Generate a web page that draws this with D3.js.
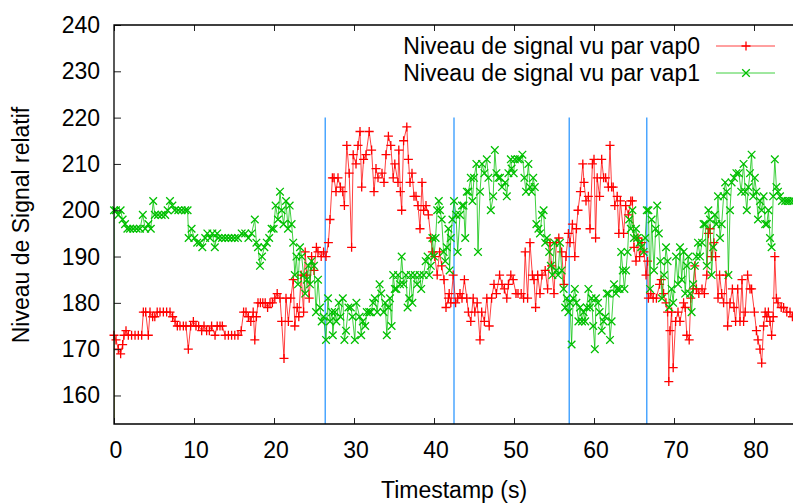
<!DOCTYPE html>
<html>
<head>
<meta charset="utf-8">
<script src="https://cdn.jsdelivr.net/npm/d3@7"></script>
<style>
    body { margin: 0; background: #fff; }
    text { font-family: "Liberation Sans", Arial, Helvetica, sans-serif; }
</style>
</head>
<body>
<div id="chart"></div>
<script>
// signal level seen by vap0 (time in s, level)
const vap0Time = [0, 0, 0.25, 0.54, 0.83, 1.08, 1.25, 1.5, 1.79, 2.2, 2.63, 3.04, 3.46, 3.67, 3.96, 4.29, 4.5, 4.83, 5.1, 5.4, 5.75, 6.17, 6.58, 7.0, 7.33, 7.63, 7.92, 8.25, 8.67, 9.0, 9.29, 9.58, 9.92, 10.25, 10.58, 10.96, 11.25, 11.58, 11.92, 12.2, 12.63, 12.9,
    13.25, 13.54, 13.88, 14.3, 14.7, 15.1, 15.5, 15.9, 16.2, 16.5, 16.8, 17.1, 17.4, 17.6, 17.8, 18.0, 18.3, 18.6, 18.9, 19.2, 19.5, 19.8, 20.1, 20.4, 20.75, 20.96, 21.25, 21.5, 21.8, 22.1, 22.4, 22.6, 22.9, 23.1, 23.4, 23.7, 23.9, 24.1, 24.4, 24.7, 25.0, 25.3, 25.5, 25.9, 26.2, 26.5, 26.8, 27.0, 27.3,
    27.5, 27.75, 28.0, 28.3, 28.6, 28.8, 29.1, 29.4, 29.7, 29.9, 30.25, 30.5, 30.75, 30.96, 31.2, 31.5, 31.9, 32.2, 32.5, 32.75, 33.0, 33.5, 33.75, 34.0, 34.3, 34.6, 34.9, 35.1, 35.5, 35.6, 35.8, 35.96, 36.2, 36.6, 36.8, 37.0, 37.25, 37.5, 37.75, 38.0, 38.25, 38.5, 38.7, 39.0, 39.3, 39.6, 39.8, 40.1, 40.4, 40.7, 40.96, 41.25, 41.5, 41.8,
    41.9, 42.1, 42.4, 42.7, 42.96, 43.25, 43.5, 43.8, 44.1, 44.3, 44.6, 44.9, 45.1, 45.4, 45.75, 45.96, 46.3, 46.6, 46.9, 47.2, 47.5, 47.8, 48.2, 48.5, 48.8, 49.1, 49.3, 49.6, 49.9, 50.25, 50.5, 50.9, 51.2, 51.4, 51.7, 52.0, 52.3, 52.5, 52.7, 52.96, 53.25, 53.5, 53.9, 54.2, 54.5, 54.7, 55.0, 55.3, 55.6, 55.96,
    56.25, 56.5, 56.8, 57.0, 57.3, 57.6, 57.8, 58.0, 58.3, 58.6, 58.75, 59.0, 59.3, 59.5, 59.8, 60.0, 60.2, 60.4, 60.7, 60.96, 61.2, 61.45, 61.8, 62.0, 62.2, 62.4, 62.6, 62.9, 63.1, 63.3, 63.7, 63.96, 64.3, 64.6, 64.8, 65.0, 65.25, 65.5, 65.7, 65.96, 66.25, 66.5, 66.7, 66.8, 67.1, 67.4, 67.8, 68.2, 68.4, 68.7, 69.0, 69.2, 69.35, 69.5, 69.7, 69.9, 70.2,
    70.5, 70.75, 71.2, 71.4, 71.6, 71.9, 72.1, 72.4, 72.6, 72.8, 73.1, 73.5, 73.8, 74.1, 74.3, 74.5, 74.7, 75.0, 75.2, 75.5, 75.7, 75.96, 76.2, 76.5, 76.7, 77.0, 77.3, 77.5, 77.7, 77.96, 78.25, 78.5, 78.7, 78.9, 79.2, 79.5, 79.7, 80.05, 80.3, 80.5, 80.75, 80.96, 81.2, 81.4, 81.6, 81.8, 82.0, 82.2, 82.4, 82.6, 82.8, 83.0, 83.4, 83.7, 84.1, 84.5, 84.8];
const vap0Level = [0, 173, 172, 170, 169, 171, 173, 174, 173, 173, 173, 173, 173, 178, 178, 173, 178, 177, 177, 178, 178, 178, 178, 178, 177, 176, 175, 175, 175, 175, 170, 175, 176, 175, 175, 174, 175, 174, 174, 175, 173, 175,
    175, 175, 173, 173, 173, 173, 173, 174, 178, 178, 177, 176, 178, 172, 177, 180, 180, 180, 180, 179, 180, 180, 181, 182, 181, 176, 168, 181, 176, 181, 185, 175, 179, 177, 186, 178, 191, 186, 181, 190, 187, 192, 191, 190, 191, 190, 193, 198, 207,
    207, 204, 207, 205, 204, 201, 214, 208, 192, 212, 210, 214, 217, 205, 211, 212, 217, 213, 204, 209, 207, 208, 206, 212, 216, 214, 207, 210, 206, 213, 204, 200, 215, 218, 211, 206, 208, 203, 203, 201, 196, 206, 200, 201, 199, 194, 191, 190, 186, 191, 188, 185, 179, 181,
    182, 180, 186, 180, 181, 182, 181, 185, 181, 178, 176, 181, 178, 180, 172, 178, 176, 181, 175, 181, 184, 182, 186, 184, 183, 181, 184, 186, 185, 182, 182, 182, 181, 191, 181, 193, 186, 185, 179, 186, 182, 186, 187, 183, 193, 188, 182, 193, 194, 191,
    184, 190, 195, 193, 197, 190, 196, 200, 204, 210, 206, 202, 203, 196, 210, 211, 194, 207, 203, 211, 207, 207, 205, 214, 205, 205, 201, 203, 195, 202, 195, 201, 199, 202, 202, 192, 189, 194, 190, 193, 191, 186, 189, 181, 182, 181, 181, 184, 185, 182, 180, 178, 163, 174, 178, 166, 176,
    178, 176, 180, 179, 173, 172, 181, 183, 188, 183, 182, 183, 182, 186, 195, 196, 190, 193, 190, 181, 186, 182, 180, 186, 175, 180, 183, 179, 176, 183, 176, 185, 176, 178, 186, 183, 183, 178, 174, 172, 170, 167, 175, 178, 177, 178, 176, 173, 177, 190, 181, 180, 179, 179, 178, 178, 177];

// signal level seen by vap1
const vap1Time = [0, 0, 0.25, 0.54, 0.83, 1.08, 1.38, 1.67, 2.0, 2.4, 2.83, 3.25, 3.6, 3.9, 4.3, 4.6, 4.9, 5.1, 5.5, 5.96, 6.4, 6.7, 7.0, 7.3, 7.6, 8.04, 8.46, 8.9, 9.2, 9.33, 9.7, 10.04, 10.4, 10.75, 11.04, 11.4, 11.67, 12.0, 12.3, 12.6, 12.9,
    13.04, 13.5, 13.9, 14.3, 14.7, 15.1, 15.5, 15.96, 16.4, 16.8, 17.2, 17.6, 17.8, 18.0, 18.25, 18.5, 18.8, 19.1, 19.4, 19.7, 19.96, 20.2, 20.5, 20.75, 20.96, 21.2, 21.5, 21.75, 21.96, 22.2, 22.4, 22.6, 22.8, 23.0, 23.25, 23.46, 23.7, 23.9, 24.1, 24.3, 24.5, 24.7, 25.0, 25.25, 25.5, 25.75, 25.96, 26.2, 26.5, 26.75, 27.0, 27.25,
    27.35, 27.6, 27.8, 28.1, 28.3, 28.6, 28.8, 29.0, 29.3, 29.6, 29.8, 30.1, 30.3, 30.7, 30.9, 31.1, 31.4, 31.6, 31.9, 32.1, 32.4, 32.6, 32.9, 33.2, 33.4, 33.7, 33.9, 34.1, 34.3, 34.5, 34.7, 34.9, 35.1, 35.3, 35.5, 35.75, 35.96, 36.2, 36.5, 36.7, 36.9, 37.1, 37.3, 37.6, 37.9, 38.2, 38.4, 38.7, 38.96, 39.2, 39.4, 39.6, 39.8, 40.0, 40.2, 40.4, 40.6, 40.75, 40.96, 41.2, 41.4, 41.6, 41.8,
    41.95, 42.1, 42.3, 42.5, 42.75, 42.96, 43.25, 43.5, 43.7, 43.9, 44.1, 44.3, 44.6, 44.8, 45.0, 45.3, 45.5, 45.75, 46.0, 46.3, 46.6, 46.8, 47.1, 47.4, 47.6, 47.8, 48.05, 48.25, 48.5, 48.9, 49.1, 49.3, 49.6, 49.7, 49.96, 50.1, 50.5, 50.75, 51.05, 51.3, 51.5, 51.8, 52.0, 52.2, 52.4, 52.6, 52.8, 53.05, 53.25, 53.5, 53.7, 53.9, 54.1, 54.4, 54.6, 54.8, 55.05, 55.3, 55.5,
    55.75, 55.96, 56.2, 56.4, 56.6, 56.8, 57.0, 57.2, 57.4, 57.6, 57.8, 58.05, 58.25, 58.5, 58.7, 58.9, 59.1, 59.3, 59.5, 59.7, 59.9, 60.1, 60.25, 60.5, 60.7, 60.96, 61.2, 61.4, 61.6, 61.8, 62.0, 62.2, 62.5, 62.75, 62.9, 63.2, 63.4, 63.6, 63.8, 64.0, 64.2, 64.4, 64.6, 64.8, 65.0, 65.25, 65.4, 65.7, 65.9, 66.2, 66.4, 66.6, 66.8, 67.0, 67.2, 67.5, 67.7, 67.9, 68.1, 68.3, 68.5, 68.75, 69.0, 69.2, 69.4, 69.7, 69.9, 70.25,
    70.5, 70.75, 70.96, 71.2, 71.4, 71.6, 71.8, 72.0, 72.2, 72.4, 72.6, 72.8, 73.0, 73.25, 73.5, 73.7, 73.9, 74.1, 74.3, 74.5, 74.7, 74.9, 75.1, 75.3, 75.5, 75.75, 75.96, 76.2, 76.4, 76.6, 76.8, 77.0, 77.2, 77.5, 77.8, 78.1, 78.4, 78.7, 78.9, 79.1, 79.3, 79.5, 79.7, 79.9, 80.1, 80.3, 80.5, 80.75, 80.96, 81.2, 81.4, 81.6, 81.8, 82.0, 82.2, 82.4, 82.6, 82.8, 83.0, 83.25, 83.5, 83.9, 84.2, 84.5, 84.9];
const vap1Level = [0, 200, 200, 199, 200, 198, 197, 196, 196, 196, 196, 196, 199, 196, 197, 196, 202, 199, 199, 199, 199, 200, 202, 201, 200, 200, 200, 200, 200, 194, 196, 194, 193, 193, 192, 194, 195, 194, 195, 192, 195,
    194, 194, 194, 194, 194, 194, 194, 195, 195, 194, 195, 198, 193, 192, 188, 190, 192, 193, 194, 196, 196, 201, 198, 204, 200, 197, 202, 196, 201, 197, 193, 186, 190, 184, 192, 190, 186, 182, 185, 188, 184, 189, 188, 178, 185, 179, 176, 177, 172, 181, 176, 178,
    173, 178, 176, 180, 177, 181, 172, 174, 179, 179, 177, 172, 180, 177, 173, 176, 175, 178, 178, 178, 180, 181, 178, 184, 182, 178, 180, 173, 179, 181, 175, 186, 183, 183, 186, 184, 190, 184, 186, 179, 181, 186, 180, 186, 184, 186, 183, 186, 189, 190, 186, 188, 194, 190, 194, 200, 202, 200, 198, 191, 189, 192, 196,
    187, 194, 198, 202, 199, 191, 199, 201, 201, 194, 204, 204, 207, 202, 207, 210, 191, 204, 210, 208, 211, 207, 200, 203, 213, 208, 207, 207, 205, 206, 203, 208, 211, 209, 208, 211, 211, 211, 212, 207, 204, 210, 205, 204, 207, 205, 197, 196, 195, 199, 200, 193, 194, 191, 188, 186, 193, 187, 186,
    193, 187, 183, 179, 181, 178, 180, 171, 181, 183, 180, 176, 179, 176, 178, 176, 179, 183, 179, 181, 175, 170, 181, 180, 178, 174, 176, 177, 182, 182, 172, 176, 184, 182, 183, 183, 191, 187, 183, 187, 191, 198, 196, 200, 194, 196, 194, 193, 192, 191, 194, 200, 200, 183, 198, 187, 196, 201, 195, 189, 181, 186, 192, 189, 179, 183, 180, 190,
    184, 192, 185, 191, 182, 188, 190, 182, 178, 184, 188, 190, 193, 190, 193, 197, 197, 188, 200, 198, 186, 192, 199, 197, 203, 194, 197, 203, 206, 204, 186, 200, 206, 207, 208, 208, 204, 210, 204, 200, 205, 208, 212, 203, 207, 204, 198, 202, 200, 203, 197, 197, 200, 194, 192, 203, 211, 205, 204, 203, 202, 202, 202, 202, 202];

// vertical event lines
const eventTimes = [26.4, 42.5, 56.9, 66.6];
const eventTop = 220;

const xTicks = [0, 10, 20, 30, 40, 50, 60, 70, 80];
const yTicks = [160, 170, 180, 190, 200, 210, 220, 230, 240];

const seriesNames = ["Niveau de signal vu par vap0", "Niveau de signal vu par vap1"];
const seriesColors = ["#ff0000", "#00c000"];

function renderChart() {
    const width = 793, height = 503;
    const left = 114, right = 794, top = 25, bottom = 424;

    const x = d3.scaleLinear().domain([0, 85]).range([left, right]);
    const y = d3.scaleLinear().domain([153.84, 240]).range([bottom, top]);

    const svg = d3.select("#chart").append("svg")
        .attr("width", width)
        .attr("height", height);

    svg.append("clipPath").attr("id", "plotClip")
        .append("rect")
        .attr("x", left).attr("y", top)
        .attr("width", right - left).attr("height", bottom - top);

    // event lines
    svg.append("g").selectAll("line")
        .data(eventTimes)
        .enter().append("line")
        .attr("x1", d => x(d)).attr("x2", d => x(d))
        .attr("y1", y(eventTop)).attr("y2", bottom)
        .attr("stroke", "#1e90ff")
        .attr("stroke-width", 1.2);

    const series = [
        d3.zip(vap0Time, vap0Level),
        d3.zip(vap1Time, vap1Level)
    ];

    const line = d3.line().x(d => x(d[0])).y(d => y(d[1]));

    const plus = "M-4.5,0H4.5M0,-4.5V4.5";
    const cross = "M-3.8,-3.8L3.8,3.8M-3.8,3.8L3.8,-3.8";
    const shapes = [plus, cross];

    series.forEach((data, i) => {
        svg.append("path")
            .datum(data)
            .attr("clip-path", "url(#plotClip)")
            .attr("fill", "none")
            .attr("stroke", seriesColors[i])
            .attr("stroke-opacity", 0.75)
            .attr("stroke-width", 1)
            .attr("d", line);

        svg.append("g").selectAll("path")
            .data(data.filter(d => d[1] >= y.domain()[0]))
            .enter().append("path")
            .attr("transform", d => `translate(${x(d[0])},${y(d[1])})`)
            .attr("d", shapes[i])
            .attr("stroke", seriesColors[i])
            .attr("stroke-width", 1.3)
            .attr("fill", "none");
    });

    // axes, ticks pointing inward like gnuplot
    const axisColor = "#222";
    svg.append("g")
        .attr("transform", `translate(0,${bottom})`)
        .call(d3.axisBottom(x).tickValues(xTicks).tickSize(-6).tickFormat(""))
        .call(g => g.select(".domain").remove())
        .selectAll("line").attr("stroke", axisColor);
    svg.append("g")
        .attr("transform", `translate(0,${top})`)
        .call(d3.axisTop(x).tickValues(xTicks).tickSize(-6).tickFormat(""))
        .call(g => g.select(".domain").remove())
        .selectAll("line").attr("stroke", axisColor);
    svg.append("g")
        .attr("transform", `translate(${left},0)`)
        .call(d3.axisLeft(y).tickValues(yTicks).tickSize(-7).tickFormat(""))
        .call(g => g.select(".domain").remove())
        .selectAll("line").attr("stroke", axisColor);

    // frame
    svg.append("path")
        .attr("d", `M${right},${top}H${left}V${bottom}H${right}`)
        .attr("fill", "none")
        .attr("stroke", "#000")
        .attr("stroke-width", 1.3);

    // tick labels
    svg.append("g").selectAll("text")
        .data(xTicks)
        .enter().append("text")
        .attr("x", d => x(d) + 2)
        .attr("y", 458)
        .attr("text-anchor", "middle")
        .attr("font-size", 23)
        .text(d => d);
    svg.append("g").selectAll("text")
        .data(yTicks)
        .enter().append("text")
        .attr("x", 100)
        .attr("y", d => y(d) + 8)
        .attr("text-anchor", "end")
        .attr("font-size", 23)
        .text(d => d);

    // axis titles
    svg.append("text")
        .attr("x", (left + right) / 2)
        .attr("y", 498)
        .attr("text-anchor", "middle")
        .attr("font-size", 23)
        .text("Timestamp (s)");
    svg.append("text")
        .attr("transform", "translate(29,225) rotate(-90)")
        .attr("text-anchor", "middle")
        .attr("font-size", 23)
        .text("Niveau de Signal relatif");

    // legend
    const legend = svg.append("g").selectAll("g")
        .data(seriesNames)
        .enter().append("g")
        .attr("transform", (d, i) => `translate(0,${46 + i * 27})`);
    legend.append("text")
        .attr("x", 700)
        .attr("y", 8)
        .attr("text-anchor", "end")
        .attr("font-size", 23)
        .text(d => d);
    legend.append("line")
        .attr("x1", 716).attr("x2", 775)
        .attr("stroke", (d, i) => seriesColors[i])
        .attr("stroke-opacity", 0.75);
    legend.append("path")
        .attr("transform", "translate(746,0)")
        .attr("d", (d, i) => shapes[i])
        .attr("stroke", (d, i) => seriesColors[i])
        .attr("stroke-width", 1.3)
        .attr("fill", "none");
}

renderChart();
</script>
</body>
</html>
